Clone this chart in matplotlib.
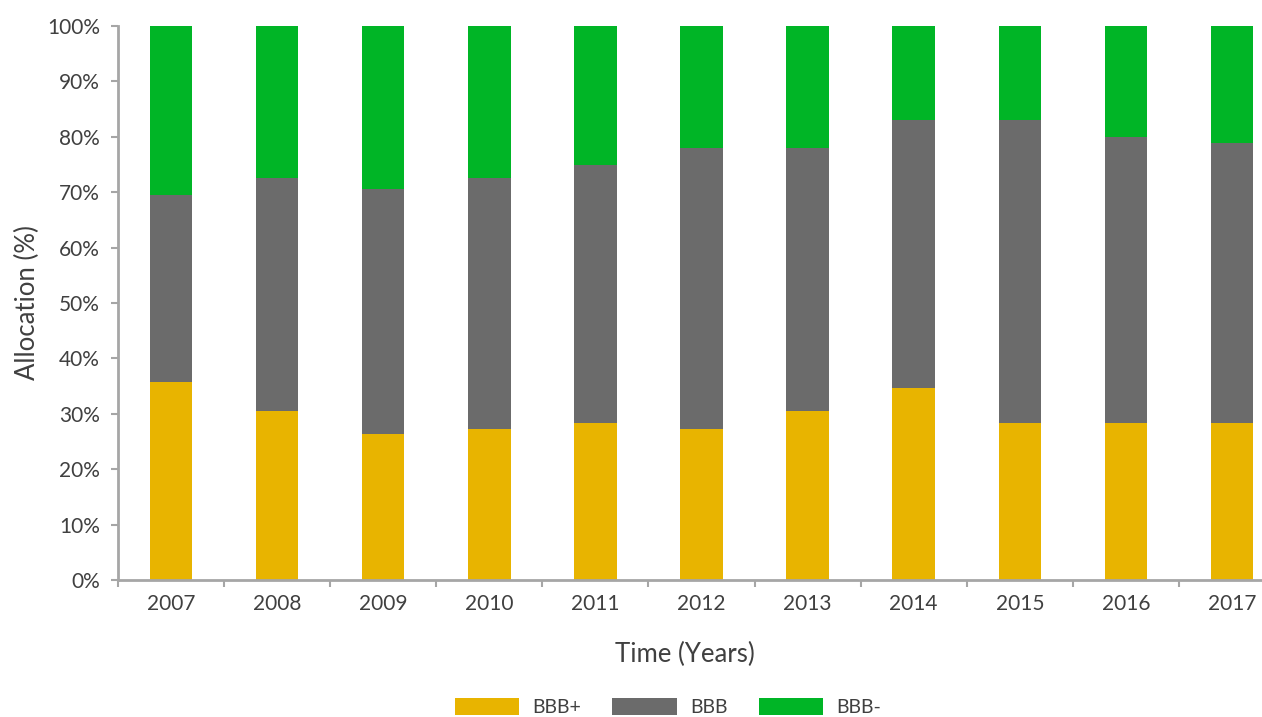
import numpy as np
import matplotlib.pyplot as plt
from matplotlib.ticker import PercentFormatter

plt.rcParams['font.family'] = ['Lato', 'DejaVu Sans']

years = ['2007', '2008', '2009', '2010', '2011', '2012', '2013', '2014', '2015', '2016', '2017']
bbb_plus = [35.7, 30.5, 26.4, 27.3, 28.3, 27.3, 30.5, 34.7, 28.3, 28.3, 28.3]
bbb = [33.8, 42.1, 44.2, 45.3, 46.6, 50.7, 47.5, 48.3, 54.7, 51.7, 50.6]
bbb_minus = [30.5, 27.4, 29.4, 27.4, 25.1, 22.0, 22.0, 17.0, 17.0, 20.0, 21.1]

c_plus = '#E8B400'
c_mid = '#6B6B6B'
c_minus = '#00B526'
txt = '#404040'
axis_c = '#A6A6A6'

W, H = 1262, 717
fig = plt.figure(figsize=(W / 100, H / 100), dpi=100)
# axes reaches past the right edge of the figure
ax = fig.add_axes([118 / W, (H - 580) / H, (1285 - 118) / W, (580 - 26) / H])

x = np.arange(len(years))
w = 0.40
plus = np.array(bbb_plus)
mid = np.array(bbb)
ax.bar(x, plus, w, color=c_plus, label='BBB+')
ax.bar(x, mid, w, bottom=plus, color=c_mid, label='BBB')
ax.bar(x, bbb_minus, w, bottom=plus + mid, color=c_minus, label='BBB-')

ax.set_xlim(-0.5, len(years) - 0.5)
ax.set_ylim(0, 100)
ax.set_yticks(np.arange(0, 101, 10))
ax.yaxis.set_major_formatter(PercentFormatter(decimals=0))

ax.set_xticks(x)
ax.set_xticklabels(years)
ax.set_xticks(np.arange(-0.5, len(years), 1), minor=True)
ax.tick_params(axis='x', which='major', length=0, pad=10, labelsize=15, labelcolor=txt)
ax.tick_params(axis='x', which='minor', length=5, width=1.5, color=axis_c)
ax.tick_params(axis='y', length=5, width=1.5, color=axis_c, pad=8, labelsize=15, labelcolor=txt)

for s in ['top', 'right']:
    ax.spines[s].set_visible(False)
for s in ['left', 'bottom']:
    ax.spines[s].set_color(axis_c)
    ax.spines[s].set_linewidth(2)

fig.text(685 / W, 1 - 654 / H, 'Time (Years)', ha='center', va='center', fontsize=18.5, color=txt)
fig.text(27 / W, 1 - 303 / H, 'Allocation (%)', ha='center', va='center', rotation=90, fontsize=18.5, color=txt)

leg = fig.legend(loc='center', bbox_to_anchor=(668 / W, 1 - 707 / H), ncol=3, frameon=False,
                 fontsize=14, handlelength=3.3, handleheight=1.0, columnspacing=1.6, handletextpad=0.7)
for t in leg.get_texts():
    t.set_color(txt)

fig.savefig('out.png', dpi=100)
